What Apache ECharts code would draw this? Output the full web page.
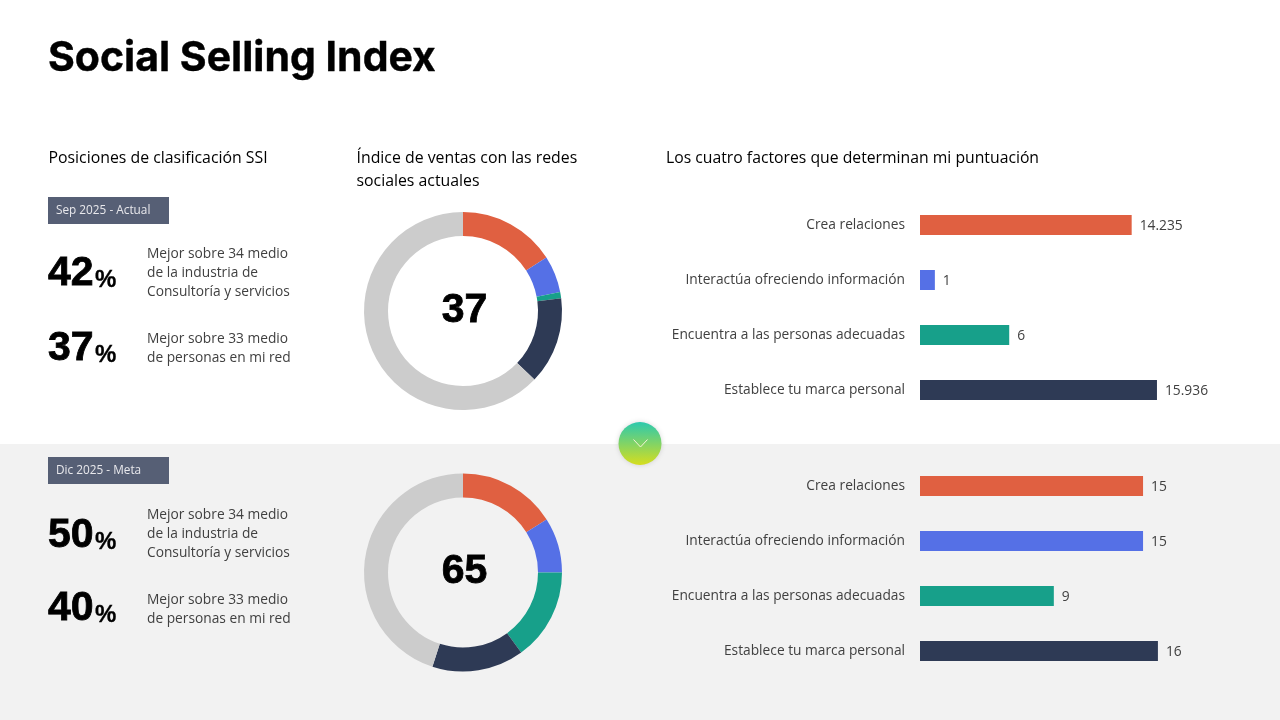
<!DOCTYPE html>
<html><head><meta charset="utf-8">
<style>html,body{margin:0;padding:0;background:#fff}#c{width:1280px;height:720px}</style>
<script src="https://cdn.jsdelivr.net/npm/echarts@6/dist/echarts.min.js"></script>
</head><body><div id="c"></div>
<script>
const factors = ['Crea relaciones','Interactúa ofreciendo información','Encuentra a las personas adecuadas','Establece tu marca personal'];
const barCurrent = [14.235, 1, 6, 15.936];
const barGoal = [15, 15, 9, 16];
const donutCurrent = [15.936, 6, 1, 14.235, 62.829];
const donutGoal = [16, 9, 15, 15, 45];
const donutCurrentLabel = '37';
const donutGoalLabel = '65';
const colors = ['#E06041','#5570E6','#17A08A','#2E3A55','#CCCCCC'];
const titleText = 'Social Selling Index';
const headers = ['Posiciones de clasificación SSI','Índice de ventas con las redes\nsociales actuales','Los cuatro factores que determinan mi puntuación'];
const tags = ['Sep 2025 - Actual','Dic 2025 - Meta'];
const industryText = 'Mejor sobre 34 medio\nde la industria de\nConsultoría y servicios';
const networkText = 'Mejor sobre 33 medio\nde personas en mi red';
const percentsCurrent = ['42','37'];
const percentsGoal = ['50','40'];

const body = '"Open Sans"';
function txt(x,y,text,font,size,weight,fill,extra){
  return Object.assign({type:'text',x,y,z:10,silent:true,style:Object.assign({text,font:`${weight} ${size}px ${font}`,fill,textVerticalAlign:'middle'},extra||{})});
}
function pct(y,val){
  return [txt(48,y,val,'"Liberation Sans"',41,'bold','#000',{stroke:'#000',lineWidth:0.8}),
          txt(95,y+6,'%','"Liberation Sans"',24,'bold','#000',{stroke:'#000',lineWidth:0.3})];
}
function lines(y,text){return txt(147,y,text,body,13.75,'normal','#404040',{lineHeight:19.3,textVerticalAlign:'top'});}
function tag(y,text){
  return [{type:'rect',z:5,silent:true,shape:{x:48,y,width:121,height:27},style:{fill:'#565F75'}},
          txt(56,y+14,text,body,11.8,'normal','#E8E8EC')];
}
const graphicEls = [
  {type:'rect',z:-10,silent:true,shape:{x:0,y:444,width:1280,height:276},style:{fill:'#F2F2F2'}},
  txt(48,58.5,titleText,'Inter',41,'bold','#000',{stroke:'#000',lineWidth:0.4}),
  txt(48.5,158.5,headers[0],body,15.85,'normal','#000'),
  txt(356.5,147,headers[1],body,15.85,'normal','#000',{lineHeight:23,textVerticalAlign:'top'}),
  txt(666,158.5,headers[2],body,15.75,'normal','#000'),
  ...tag(197,tags[0]),...tag(457,tags[1]),
  ...pct(274,percentsCurrent[0]),...pct(349,percentsCurrent[1]),
  ...pct(536,percentsGoal[0]),...pct(609,percentsGoal[1]),
  lines(244,industryText),lines(329,networkText),lines(505,industryText),lines(590,networkText),
  txt(464.5,311,donutCurrentLabel,'"Liberation Sans"',41,'bold','#000',{textAlign:'center',stroke:'#000',lineWidth:0.8}),
  txt(464.5,572,donutGoalLabel,'"Liberation Sans"',41,'bold','#000',{textAlign:'center',stroke:'#000',lineWidth:0.8}),
  {type:'circle',z:20,silent:true,shape:{cx:640,cy:443.5,r:21.5},
   style:{fill:{type:'linear',x:0,y:0,x2:0,y2:1,colorStops:[{offset:0,color:'#2CC9AE'},{offset:1,color:'#D6DE1E'}]},shadowBlur:5,shadowColor:'rgba(0,0,0,0.15)'}},
  {type:'polyline',z:21,silent:true,shape:{points:[[633.5,439.5],[640.5,447],[647.5,439.5]]},style:{stroke:'#F4F4D8',lineWidth:1,fill:null}}
];
function pie(center,data){
  return {type:'pie',center,radius:[75,99],startAngle:90,silent:true,clockwise:true,label:{show:false},labelLine:{show:false},
    emphasis:{disabled:true},animation:false,
    data:data.map((v,i)=>({value:v,itemStyle:{color:colors[i]}}))};
}
function bar(idx,data){
  return {type:'bar',xAxisIndex:idx,yAxisIndex:idx,barWidth:20,silent:true,animation:false,
    data:data.map((v,i)=>({value:v,itemStyle:{color:colors[i]}})),
    label:{show:true,position:'right',distance:8,offset:[0,1],fontFamily:'Open Sans',fontSize:13.8,color:'#404040',formatter:p=>String(p.value)}};
}
function grid(top){return {left:920,top,width:297.4,height:220};}
function xA(i){return {type:'value',gridIndex:i,min:0,max:20,show:false};}
function yA(i,pad){return {type:'category',gridIndex:i,inverse:true,data:factors,axisLine:{show:false},axisTick:{show:false},splitLine:{show:false},
  axisLabel:{margin:15,padding:[pad,0,0,0],fontFamily:'Open Sans',fontSize:13.75,color:'#404040'}};}
const chart = echarts.init(document.getElementById('c'),null,{renderer:'canvas'});
chart.setOption({animation:false,backgroundColor:'#fff',
  grid:[grid(197.5),grid(458.5)],xAxis:[xA(0),xA(1)],yAxis:[yA(0,0),yA(1,4)],
  series:[pie([463,311],donutCurrent),pie([463,572.5],donutGoal),bar(0,barCurrent),bar(1,barGoal)],
  graphic:{elements:graphicEls}});
</script></body></html>
